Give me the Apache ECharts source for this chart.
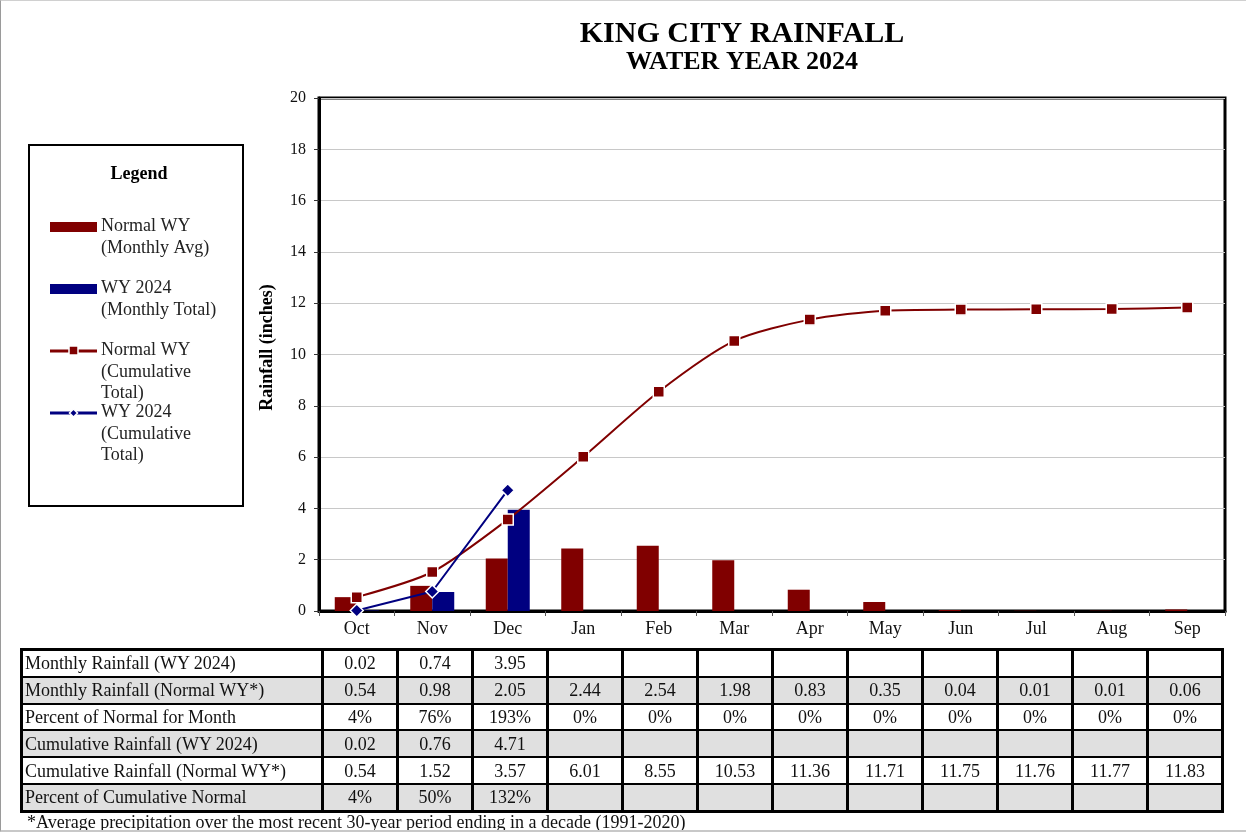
<!DOCTYPE html>
<html>
<head>
<meta charset="utf-8">
<script src="https://cdn.jsdelivr.net/npm/echarts@6/dist/echarts.min.js"></script>
<style>
  html, body { margin: 0; padding: 0; background: #fff; }
  #page { position: relative; width: 1246px; height: 832px; overflow: hidden; box-sizing: border-box;
          border-left: 1px solid #9a9a9a; border-top: 1px solid #d0d0d0; border-bottom: 2px solid #c8c8c8; }
  #chart { position: absolute; left: -1px; top: -1px; width: 1246px; height: 832px; }
  #tbl { position: absolute; left: 19px; top: 647px; border-collapse: collapse; table-layout: fixed;
         font-family: 'Liberation Serif', 'Times New Roman', serif; font-size: 18px; color: #111;
         border: 3px solid #000; }
  #tbl td { border-left: 3px solid #000; border-right: 3px solid #000; border-top: 2px solid #000; border-bottom: 2px solid #000;
            height: 24.8px; padding: 0; text-align: center; line-height: 24px; white-space: nowrap; overflow: hidden; }
  #tbl td.lab { text-align: left; padding-left: 2px; }
  #tbl tr.g td { background: #e0e0e0; }
  #note { position: absolute; left: 26px; top: 811px; font-family: 'Liberation Serif', 'Times New Roman', serif;
          font-size: 18px; color: #111; white-space: nowrap; }
</style>
</head>
<body>
<div id="page">
  <div id="chart"></div>
  <table id="tbl"></table>
  <div id="note"></div>
</div>
<script>
// ---- data ----
const months = ['Oct','Nov','Dec','Jan','Feb','Mar','Apr','May','Jun','Jul','Aug','Sep'];
const wy2024Monthly = [0.02, 0.74, 3.95, null, null, null, null, null, null, null, null, null];
const normalMonthly = [0.54, 0.98, 2.05, 2.44, 2.54, 1.98, 0.83, 0.35, 0.04, 0.01, 0.01, 0.06];
const pctOfNormalMonth = ['4%','76%','193%','0%','0%','0%','0%','0%','0%','0%','0%','0%'];
const wy2024Cumulative = [0.02, 0.76, 4.71, null, null, null, null, null, null, null, null, null];
const normalCumulative = [0.54, 1.52, 3.57, 6.01, 8.55, 10.53, 11.36, 11.71, 11.75, 11.76, 11.77, 11.83];
const pctOfCumNormal = ['4%','50%','132%','','','','','','','','',''];
const rowLabels = ['Monthly Rainfall (WY 2024)','Monthly Rainfall (Normal WY*)','Percent of Normal for Month',
                   'Cumulative Rainfall (WY 2024)','Cumulative Rainfall (Normal WY*)','Percent of Cumulative Normal'];
const footnote = '*Average precipitation over the most recent 30-year period ending in a decade (1991-2020)';
const titleText = 'KING CITY RAINFALL';
const subtitleText = 'WATER YEAR 2024';
const yAxisName = 'Rainfall (inches)';
const legendTitle = 'Legend';
const legendNames = ['Normal WY\n(Monthly Avg)', 'WY 2024\n(Monthly Total)', 'Normal WY\n(Cumulative\nTotal)', 'WY 2024\n(Cumulative\nTotal)'];

// ---- style ----
const RED = '#800000', BLUE = '#000080';
const SERIF = "'Liberation Serif', 'Times New Roman', serif";

// ---- table ----
(function buildTable() {
  const fmt = v => (v === null || v === undefined) ? '' : (typeof v === 'number' ? v.toFixed(2) : v);
  const rows = [wy2024Monthly, normalMonthly, pctOfNormalMonth, wy2024Cumulative, normalCumulative, pctOfCumNormal];
  let html = '<colgroup><col style="width:301px">';
  for (let i = 0; i < months.length; i++) html += '<col style="width:75px">';
  html += '</colgroup>';
  rows.forEach((r, ri) => {
    html += '<tr' + (ri % 2 === 1 ? ' class="g"' : '') + '><td class="lab">' + rowLabels[ri] + '</td>';
    r.forEach(v => { html += '<td>' + fmt(v) + '</td>'; });
    html += '</tr>';
  });
  const t = document.getElementById('tbl');
  t.innerHTML = html;
  t.style.width = '1203px';
  document.getElementById('note').textContent = footnote;
})();

// ---- chart ----
const chart = echarts.init(document.getElementById('chart'), null, { renderer: 'canvas' });

const lx = 50, lw = 47, tx = 101, lh = 21.5;
const legendGraphic = {
  type: 'group',
  children: [
    { type: 'rect', shape: { x: 29, y: 145, width: 214, height: 361 }, style: { fill: '#fff', stroke: '#000', lineWidth: 2 } },
    { type: 'text', x: 139, y: 174, style: { text: legendTitle, fill: '#000', font: 'bold 18px ' + SERIF, textAlign: 'center', textVerticalAlign: 'middle' } },
    { type: 'rect', shape: { x: lx, y: 222, width: lw, height: 10 }, style: { fill: RED } },
    { type: 'text', x: tx, y: 216, style: { text: legendNames[0], fill: '#222', font: '18px ' + SERIF, lineHeight: lh, textVerticalAlign: 'top' } },
    { type: 'rect', shape: { x: lx, y: 284, width: lw, height: 10 }, style: { fill: BLUE } },
    { type: 'text', x: tx, y: 278, style: { text: legendNames[1], fill: '#222', font: '18px ' + SERIF, lineHeight: lh, textVerticalAlign: 'top' } },
    { type: 'line', shape: { x1: lx, y1: 351, x2: lx + lw, y2: 351 }, style: { stroke: RED, lineWidth: 3 } },
    { type: 'rect', shape: { x: 69, y: 346, width: 9, height: 9 }, style: { fill: RED, stroke: '#fff', lineWidth: 1.5 } },
    { type: 'text', x: tx, y: 340, style: { text: legendNames[2], fill: '#222', font: '18px ' + SERIF, lineHeight: lh, textVerticalAlign: 'top' } },
    { type: 'line', shape: { x1: lx, y1: 413, x2: lx + lw, y2: 413 }, style: { stroke: BLUE, lineWidth: 3 } },
    { type: 'polygon', shape: { points: [[73.5, 409], [77.5, 413], [73.5, 417], [69.5, 413]] }, style: { fill: BLUE, stroke: '#fff', lineWidth: 1.5 } },
    { type: 'text', x: tx, y: 402, style: { text: legendNames[3], fill: '#222', font: '18px ' + SERIF, lineHeight: lh, textVerticalAlign: 'top' } }
  ]
};

const option = {
  backgroundColor: 'transparent',
  animation: false,
  title: {
    text: titleText,
    subtext: subtitleText,
    left: 737,
    top: 14,
    textAlign: 'center',
    itemGap: 0,
    textStyle: { fontFamily: SERIF, fontWeight: 'bold', fontSize: 30, color: '#000' },
    subtextStyle: { fontFamily: SERIF, fontWeight: 'bold', fontSize: 26, color: '#000' }
  },
  grid: { left: 319, right: 21, top: 98, bottom: 221, show: true, borderColor: '#000', borderWidth: 3 },
  xAxis: {
    type: 'category',
    data: months,
    boundaryGap: true,
    axisLine: { lineStyle: { color: '#000', width: 3 } },
    axisTick: { show: true, length: 5, alignWithLabel: false, lineStyle: { color: '#555', width: 1 } },
    axisLabel: { fontFamily: SERIF, fontSize: 18, color: '#111', margin: 9 }
  },
  yAxis: {
    type: 'value',
    min: 0, max: 20, interval: 2,
    name: yAxisName,
    nameLocation: 'middle',
    nameRotate: 90,
    nameGap: 43,
    nameTextStyle: { fontFamily: SERIF, fontWeight: 'bold', fontSize: 18, color: '#000', padding: [0, 0, 0, 14] },
    axisLine: { show: true, lineStyle: { color: '#000', width: 3 } },
    axisTick: { show: true, length: 5, lineStyle: { color: '#333', width: 1 } },
    axisLabel: { fontFamily: SERIF, fontSize: 16, color: '#111', margin: 13 },
    splitLine: { lineStyle: { color: '#c8c8c8', width: 1 } }
  },
  series: [
    { name: 'Normal WY (Monthly Avg)', type: 'bar', data: normalMonthly, barWidth: 22, barGap: '0%',
      itemStyle: { color: RED } },
    { name: 'WY 2024 (Monthly Total)', type: 'bar', data: wy2024Monthly, barWidth: 22, barGap: '0%',
      itemStyle: { color: BLUE } },
    { name: 'Normal WY (Cumulative Total)', type: 'line', data: normalCumulative, smooth: 0.25,
      symbol: 'rect', symbolSize: 11, showAllSymbol: true,
      lineStyle: { color: RED, width: 2 },
      itemStyle: { color: RED, borderColor: '#fff', borderWidth: 1.5 }, z: 3 },
    { name: 'WY 2024 (Cumulative Total)', type: 'line', data: wy2024Cumulative, smooth: false,
      symbol: 'diamond', symbolSize: 13, connectNulls: false,
      lineStyle: { color: BLUE, width: 2 },
      itemStyle: { color: BLUE, borderColor: '#fff', borderWidth: 1.5 }, z: 4 }
  ],
  graphic: [legendGraphic]
};
chart.setOption(option);
</script>
</body>
</html>
